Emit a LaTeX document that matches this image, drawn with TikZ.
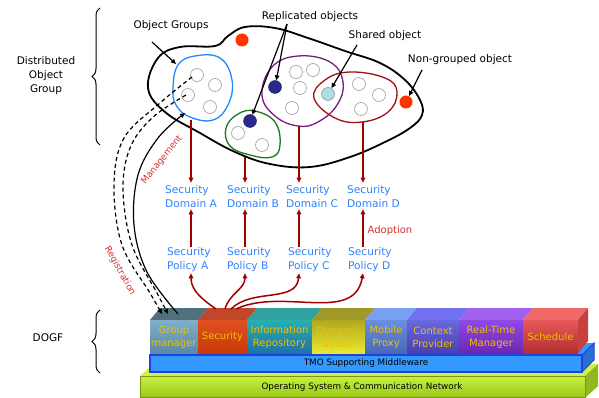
\documentclass[tikz,border=0pt]{standalone}
\usepackage{fontspec}
\setmainfont{DejaVu Sans}
\usetikzlibrary{arrows.meta,decorations.pathreplacing,calc}

\definecolor{secblue}{HTML}{3080FF}
\definecolor{arrred}{HTML}{A00000}
\definecolor{lblred}{HTML}{D83030}
\definecolor{grpblue}{HTML}{2288FF}
\definecolor{grpgreen}{HTML}{1A7A1A}
\definecolor{grppurple}{HTML}{7A1A8A}
\definecolor{grpred}{HTML}{A01010}
\definecolor{dotred}{HTML}{FF3300}
\definecolor{dotnavy}{HTML}{2A2A8A}
\definecolor{dotcyan}{HTML}{B0DDE0}
\definecolor{modtext}{HTML}{F0C000}
% platform layers
\definecolor{osTop}{HTML}{D0F050}
\definecolor{osSide}{HTML}{90B820}
\definecolor{osUp}{HTML}{C8F040}
\definecolor{osLow}{HTML}{98C818}
\definecolor{osEdge}{HTML}{7A9610}
\definecolor{mwFill}{HTML}{3399FF}
\definecolor{mwSide}{HTML}{2A70D0}
\definecolor{mwEdge}{HTML}{2040E0}
\definecolor{scSide}{HTML}{C84040}
% module colours: top face / upper front / lower front
\definecolor{gmT}{HTML}{50707C}\definecolor{gmU}{HTML}{80B0C8}\definecolor{gmL}{HTML}{5A88A8}
\definecolor{seT}{HTML}{C04828}\definecolor{seU}{HTML}{E05020}\definecolor{seL}{HTML}{C83A08}
\definecolor{irT}{HTML}{30A0A0}\definecolor{irU}{HTML}{28B0B0}\definecolor{irL}{HTML}{2070A8}
\definecolor{dbT}{HTML}{A09828}\definecolor{dbU}{HTML}{B0A820}\definecolor{dbL}{HTML}{E8E830}
\definecolor{mpT}{HTML}{78A0F0}\definecolor{mpU}{HTML}{6890E0}\definecolor{mpL}{HTML}{4A68B8}
\definecolor{cpT}{HTML}{7070F0}\definecolor{cpU}{HTML}{6868E0}\definecolor{cpL}{HTML}{4A40B0}
\definecolor{rtT}{HTML}{A060F0}\definecolor{rtU}{HTML}{9048E8}\definecolor{rtL}{HTML}{6A28B0}
\definecolor{scT}{HTML}{F06868}\definecolor{scU}{HTML}{E85858}\definecolor{scL}{HTML}{B03030}

\tikzset{
  lbl/.style={font=\fontsize{10.5}{14}\selectfont, inner sep=0pt, align=center},
  sectxt/.style={font=\fontsize{10.6}{14}\selectfont, text=secblue, align=left, anchor=west, inner sep=1pt},
  modtxt/.style={font=\fontsize{10}{13}\selectfont, text=modtext, align=center, inner sep=0pt},
  basetxt/.style={font=\fontsize{8.8}{10}\selectfont, inner sep=0pt},
  obj/.style={circle, draw=gray!75, fill=white, line width=0.6pt, minimum size=13pt, inner sep=0pt},
  dot/.style={circle, minimum size=13pt, inner sep=0pt},
  ptr/.style={draw=black, line width=1.2pt, -{Triangle[length=5pt,width=4.5pt]}},
  redarr/.style={draw=arrred, line width=1.5pt, -{Triangle[length=5pt,width=4.5pt]}},
  grp/.style={line width=1.3pt},
  regline/.style={draw=black, line width=1.2pt, dash pattern=on 4pt off 3pt, -{Triangle[length=5pt,width=4.5pt]}},
  bracedeco/.style={decorate, decoration={brace, amplitude=8pt}, line width=1pt},
  sidelbl/.style={font=\fontsize{9}{11}\selectfont, text=lblred, inner sep=0pt},
}

\begin{document}
\begin{tikzpicture}[x=1pt, y=-1pt]
\useasboundingbox (0,0) rectangle (599,398);

% ---------- braces and side captions ----------
\coordinate (bA1) at (100,145); \coordinate (bA2) at (100,8);
\draw[bracedeco] (bA1) -- (bA2);
\node[lbl] (capDOG) at (46,76) {Distributed\\Object\\Group};
\coordinate (bB1) at (100,373); \coordinate (bB2) at (100,310);
\draw[bracedeco] (bB1) -- (bB2);
\node[lbl] (capDOGF) at (48,338) {DOGF};

% ---------- distributed object group cloud ----------
\draw[line width=1.8pt] plot[smooth cycle, tension=0.65] coordinates {
  (148,88) (158,58) (180,47) (215,46) (228,36) (245,27) (275,28) (308,38)
  (345,51) (380,63) (405,80) (420,100) (422,115) (410,128) (385,142)
  (350,157) (310,167) (270,164) (235,152) (200,133) (165,112)};

% object groups
\draw[grp, grpblue] plot[smooth cycle, tension=0.7] coordinates {
  (173,88) (178,65) (195,56) (220,58) (232,80) (228,105) (213,120) (190,117) (176,105)};
\draw[grp, grpgreen] plot[smooth cycle, tension=0.7] coordinates {
  (226,128) (238,114) (255,111) (275,122) (280,145) (272,157) (250,155) (230,146)};
\draw[grp, grppurple] plot[smooth cycle, tension=0.7] coordinates {
  (262,95) (272,67) (298,56) (330,62) (343,82) (337,105) (318,122) (298,126) (275,116)};
\draw[grp, grpred] plot[smooth cycle, tension=0.7] coordinates {
  (314,98) (325,80) (350,72) (385,78) (397,92) (388,112) (362,122) (335,118)};

% objects
\node[obj] (oA1) at (197,75) {};
\node[obj] (oA2) at (215,85) {};
\node[obj] (oA3) at (188,95) {};
\node[obj] (oA4) at (210,107) {};
\node[obj] (oB1) at (238,133) {};
\node[obj] (oB2) at (262,145) {};
\node[obj] (oC1) at (296,72) {};
\node[obj] (oC2) at (313,70) {};
\node[obj] (oC3) at (300,88) {};
\node[obj] (oC4) at (292,108) {};
\node[obj] (oD1) at (359,84) {};
\node[obj] (oD2) at (379,95) {};
\node[obj] (oD3) at (361,109) {};
\node[dot, fill=dotnavy, draw=dotnavy!70!black] (rep1) at (275,87) {};
\node[dot, fill=dotnavy, draw=dotnavy!70!black] (rep2) at (250,121) {};
\node[dot, fill=dotcyan, draw=gray!80, line width=0.6pt] (shared) at (328,94) {};
\node[dot, fill=dotred] (ng1) at (242,40) {};
\node[dot, fill=dotred] (ng2) at (406,102) {};

% captions with pointers
\node[lbl] (lblGroups) at (171,26) {Object Groups};
\node[lbl] (lblRepl) at (310,17) {Replicated objects};
\node[lbl] (lblShared) at (385,36) {Shared object};
\node[lbl] (lblNon) at (460,60) {Non-grouped object};
\coordinate (pG1) at (152,42); \coordinate (pG2) at (176,64);
\draw[ptr] (pG1) -- (pG2);
\coordinate (pR) at (287,24);
\draw[ptr] (pR) -- (rep1);
\draw[ptr] (pR) -- (rep2);
\coordinate (pS) at (357,45);
\draw[ptr] (pS) -- (shared);
\coordinate (pN) at (422,70);
\draw[ptr] (pN) -- (ng2);

% ---------- security domains and policies ----------
\node[sectxt] (domA) at (164,197) {Security\\Domain A};
\node[sectxt] (domB) at (226,197) {Security\\Domain B};
\node[sectxt] (domC) at (285,197) {Security\\Domain C};
\node[sectxt] (domD) at (346,197) {Security\\Domain D};
\node[sectxt] (polA) at (166,260) {Security\\Policy A};
\node[sectxt] (polB) at (226,260) {Security\\Policy B};
\node[sectxt] (polC) at (287,260) {Security\\Policy C};
\node[sectxt] (polD) at (347,260) {Security\\Policy D};

\coordinate (gA) at (191,120);
\coordinate (gB) at (245,157);
\coordinate (gC) at (299,126);
\coordinate (gD) at (363,122);
\foreach \g/\d/\p in {gA/domA/polA, gB/domB/polB, gC/domC/polC, gD/domD/polD} {
  \draw[redarr, shorten >=2pt] (\g) -- (\g |- \d.north);
  \draw[redarr] (\p.north -| \g) -- (\d.south -| \g);
}
\node[font=\fontsize{10}{12}\selectfont, text=lblred, inner sep=0pt] (adopt) at (390,231) {Adoption};

% ---------- DOGF layered platform ----------
% operating system base
\fill[osTop] (140,376) -- (153,364) -- (598,364) -- (585,376) -- cycle;
\fill[osSide] (585,376) -- (598,364) -- (598,386) -- (585,398) -- cycle;
\shade[top color=osUp, bottom color=osLow] (140,376) rectangle (585,397.5);
\draw[line width=0.5pt, osEdge] (140,376) rectangle (585,397.5);
\node[basetxt] (os) at (362,387) {Operating System \& Communication Network};

% middleware
\fill[mwFill] (150,355) -- (162,343) -- (594,343) -- (582,355) -- cycle;
\filldraw[fill=mwSide, draw=mwEdge, line width=1pt]
  (582,355) -- (594,343) -- (594,360) -- (582,372) -- cycle;
\filldraw[fill=mwFill, draw=mwEdge, line width=1.2pt]
  (150,355) rectangle (582,372);
\node[basetxt] (mw) at (366,363.5) {TMO Supporting Middleware};

% service modules
\foreach \a/\b/\tc/\uc/\lc/\nm/\txt in {
  150/198/gmT/gmU/gmL/mGM/{Group\\manager},
  198/247/seT/seU/seL/mSec/{Security},
  247/312/irT/irU/irL/mIR/{Information\\Repository},
  312/365/dbT/dbU/dbL/mDB/{Dynamic\\Binder},
  365/407/mpT/mpU/mpL/mMP/{Mobile\\Proxy},
  407/459/cpT/cpU/cpL/mCP/{Context\\Provider},
  459/523/rtT/rtU/rtL/mRT/{Real-Time\\Manager},
  523/578/scT/scU/scL/mSc/{Schedule}} {
  \fill[\tc] (\a,320) -- (\b,320) -- (\b+10,308) -- (\a+10,308) -- cycle;
  \shade[top color=\uc, bottom color=\lc] (\a,320) rectangle (\b,353);
  \node[modtxt] (\nm) at ({(\a+\b)/2},337) {\txt};
}
\fill[scSide] (578,320) -- (588,308) -- (588,341) -- (578,353) -- cycle;

% ---------- security policy distribution ----------
\coordinate (s1) at (216,309);
\coordinate (s2) at (225,309);
\coordinate (s3) at (231,309);
\coordinate (s4) at (236,309);
\draw[redarr] (s1) to[out=145, in=-90] (polA.south -| gA);
\draw[redarr] (s2) to[out=75, in=-90] (polB.south -| gB);
\draw[redarr] (s3) to[out=45, in=-95] (polC.south -| gC);
\draw[redarr] (s4) to[out=25, in=-100] (polD.south -| gD);

% ---------- registration and management ----------
\coordinate (regS1) at (192,77);  \coordinate (regE1) at (162,314);
\coordinate (regS2) at (186,95);  \coordinate (regE2) at (168,314);
\coordinate (mgS) at (178,314);   \coordinate (mgE) at (185,113);
\draw[regline] plot[smooth, tension=0.6] coordinates {(regS1) (160,103) (124,138) (114,185) (122,245) (150,293) (regE1)};
\draw[regline] plot[smooth, tension=0.6] coordinates {(regS2) (152,118) (130,148) (123,190) (132,245) (157,293) (regE2)};
\draw[ptr] plot[smooth, tension=0.6] coordinates {(mgS) (147,272) (134,225) (138,175) (158,138) (mgE)};
\node[sidelbl, rotate=51] (mgLbl) at (162,160) {Management};
\node[sidelbl, rotate=-61] (regLbl) at (120,271) {Registration};

\end{tikzpicture}
\end{document}
